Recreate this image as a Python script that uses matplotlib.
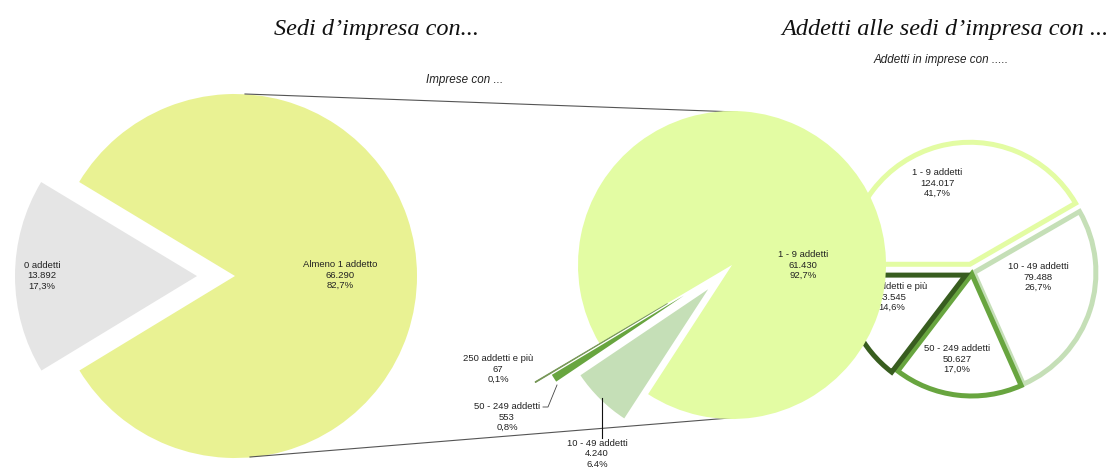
import matplotlib
matplotlib.use("Agg")
import matplotlib.pyplot as plt

# ---------------- data ----------------
sedi_labels = ["0 addetti", "Almeno 1 addetto"]
sedi_values = [13892, 66290]
sedi_pct = ["17,3%", "82,7%"]

imprese_labels = ["1 - 9 addetti", "10 - 49 addetti", "50 - 249 addetti", "250 addetti e più"]
imprese_values = [61430, 4240, 553, 67]
imprese_pct = ["92,7%", "6,4%", "0,8%", "0,1%"]

addetti_labels = ["1 - 9 addetti", "10 - 49 addetti", "50 - 249 addetti", "250 addetti e più"]
addetti_values = [124017, 79488, 50627, 43545]
addetti_pct = ["41,7%", "26,7%", "17,0%", "14,6%"]

title_left = "Sedi d\u2019impresa con..."
title_right = "Addetti alle sedi d\u2019impresa con ..."
sub_mid = "Imprese con ..."
sub_right = "Addetti in imprese con ....."

def fmt(v):
    return f"{v:,}".replace(",", ".")

# ---------------- styling ----------------
W, H = 1110, 467
col_gray = "#e5e5e5"
col_almeno = "#e9f293"
col_19 = "#e3fca3"
col_1049 = "#c5dfb7"
col_50249 = "#68a53f"
col_250 = "#385d1f"
size_colors = [col_19, col_1049, col_50249, col_250]

fig = plt.figure(figsize=(W / 100, H / 100), dpi=100)
ax = fig.add_axes([0, 0, 1, 1])

def Y(py):
    return H - py

lab_font = dict(family="Liberation Sans", fontsize=6.8, color="#222222",
                ha="center", va="center", linespacing=1.15)

# ---------------- left pie ----------------
c1, r1 = (235, Y(276)), 182
ax.pie(sedi_values, colors=[col_gray, col_almeno], startangle=148.9,
       explode=[38, 0], center=c1, radius=r1, frame=True,
       wedgeprops=dict(linewidth=0))
ax.text(42, Y(276), f"{sedi_labels[0]}\n{fmt(sedi_values[0])}\n{sedi_pct[0]}", **lab_font)
ax.text(340, Y(275), f"{sedi_labels[1]}\n{fmt(sedi_values[1])}\n{sedi_pct[1]}", **lab_font)

# ---------------- right pie (behind) ----------------
c3, r3 = (972, Y(272)), 122
w3, _ = ax.pie(addetti_values, colors=["white"] * 4, startangle=180, counterclock=False,
               explode=[8, 2, 2, 7], center=c3, radius=r3, frame=True)
for w, ec in zip(w3, size_colors):
    w.set_facecolor("white")
    w.set_edgecolor(ec)
    w.set_linewidth(3.6)
    w.set_zorder(1)
ax.text(937, Y(183), f"{addetti_labels[0]}\n{fmt(addetti_values[0])}\n{addetti_pct[0]}", zorder=1.5, **lab_font)
ax.text(1038, Y(277), f"{addetti_labels[1]}\n{fmt(addetti_values[1])}\n{addetti_pct[1]}", zorder=1.5, **lab_font)
ax.text(957, Y(359), f"{addetti_labels[2]}\n{fmt(addetti_values[2])}\n{addetti_pct[2]}", zorder=1.5, **lab_font)
ax.text(892, Y(297), f"{addetti_labels[3]}\n{fmt(addetti_values[3])}\n{addetti_pct[3]}", zorder=1.5, **lab_font)

# ---------------- middle pie (on top) ----------------
c2, r2 = (732, Y(265)), 154
w2, _ = ax.pie(imprese_values, colors=size_colors, startangle=210.6, counterclock=False,
               explode=[0, 34, 57, 75], center=c2, radius=r2, frame=True,
               wedgeprops=dict(linewidth=0))
for w in w2:
    w.set_zorder(3)
w2[3].set_edgecolor("#7a9a5a")
w2[3].set_linewidth(0.6)
ax.text(803, Y(265), f"{imprese_labels[0]}\n{fmt(imprese_values[0])}\n{imprese_pct[0]}", zorder=4, **lab_font)
ax.text(498, Y(369), f"{imprese_labels[3]}\n{fmt(imprese_values[3])}\n{imprese_pct[3]}", zorder=4, **lab_font)
ax.text(507, Y(417), f"{imprese_labels[2]}\n{fmt(imprese_values[2])}\n{imprese_pct[2]}", zorder=4, **lab_font)
ax.text(597, Y(454), f"{imprese_labels[1]}\n{fmt(imprese_values[1])}\n{imprese_pct[1]}", zorder=4, **lab_font)

# leader lines
ax.plot([543, 548, 557], [Y(407), Y(407), Y(385)], color="#444444", lw=0.6, zorder=4)
ax.plot([602, 602], [Y(398), Y(438)], color="#111111", lw=0.8, zorder=4)

# connector lines between left and middle pies
ax.plot([c1[0] + 10, c2[0] + 5], [c1[1] + r1, c2[1] + r2 - 1], color="#555555", lw=0.8, zorder=2)
ax.plot([c1[0] + 15, c2[0] + 10], [c1[1] - r1 + 1, c2[1] - r2 + 2], color="#555555", lw=0.8, zorder=2)

# ---------------- titles ----------------
ax.text(377, Y(30), title_left, family="Liberation Serif", style="italic",
        fontsize=17.5, ha="center", va="center", color="#111111")
ax.text(945, Y(30), title_right, family="Liberation Serif", style="italic",
        fontsize=17.5, ha="center", va="center", color="#111111")
ax.text(465, Y(80), sub_mid, family="Liberation Sans", style="italic",
        fontsize=8.4, ha="center", va="center", color="#222222")
ax.text(941, Y(60), sub_right, family="Liberation Sans", style="italic",
        fontsize=8.4, ha="center", va="center", color="#222222")

ax.set_xlim(0, W)
ax.set_ylim(0, H)
ax.set_aspect("equal")
ax.axis("off")

fig.savefig("out.png", dpi=100)
